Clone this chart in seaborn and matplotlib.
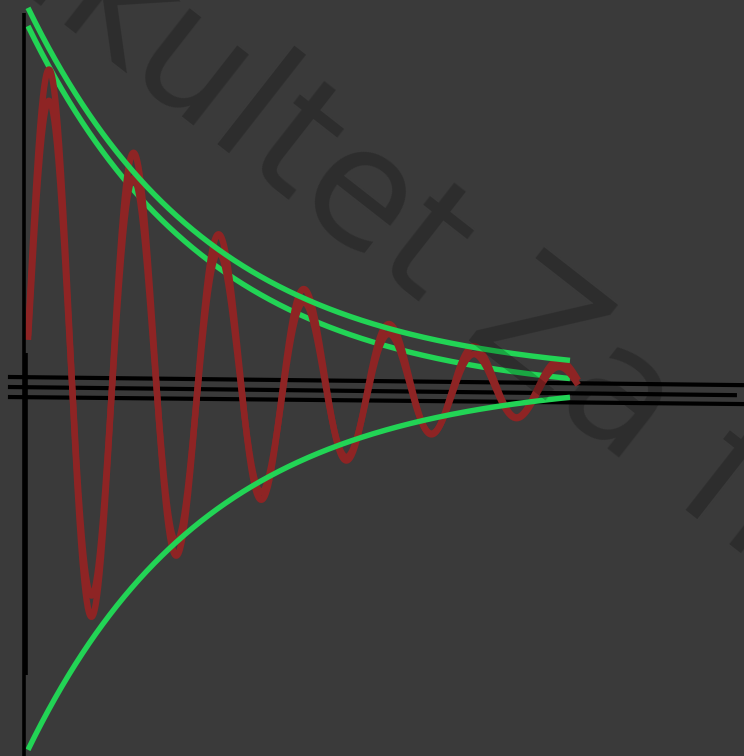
"""
Damped oscillation with its exponential envelope
(three slightly shifted copies of the same plot on top of each other)
"""
import numpy as np
import matplotlib
matplotlib.use("Agg")
import matplotlib.pyplot as plt
import seaborn as sns

# --- values ----------------------------------------------------------------
# time axis (s), amplitude relative to the start of the envelope
t_env_end = 10.0        # green envelopes stop here
t_osc_end = 10.15       # red curves run a little further
omega = 4.0             # rad/s  (period ~1.57 s)
gamma_env = 0.30        # 1/s, envelope decay

# red curves: amplitude A*exp(-gamma t)*(1 - rise*exp(-beta t)),
# centre line settles from a bit above zero
osc_amp = [1.065, 0.96]
osc_gamma = [0.28, 0.28]
osc_rise = [0.32, 0.32]
osc_beta = [0.98, 0.98]
osc_centre = [0.0027, -0.008]
osc_drift = [0.135, 0.135]
osc_drift_rate = [0.6, 0.6]

# green envelopes of the stacked copies
env_centres = [0.022, -0.027]       # copy A (upper + lower), copy B (upper only)
env_has_lower = [True, False]

# x-axis lines of the three copies (left height, right height, right end)
axis_left = [0.027, 0.0, -0.027]
axis_right = [0.005, -0.022, -0.046]
axis_x_end = [13.21, 13.08, 13.21]
axis_x_start = -0.37
# y-axis lines (x, top, bottom)
yaxis_x = [-0.074, -0.028]
yaxis_top = [1.008, 0.092]
yaxis_bottom = [-0.995, -0.776]

watermark = "Fakultet Za fiziku"

# --- style ------------------------------------------------------------------
sns.set_style("white")
plt.rcParams['font.family'] = ['DejaVu Sans']

bg = "#3a3a3a"
green = "#22d455"
red = "#8e2424"

fig = plt.figure(figsize=(7.44, 7.56), dpi=100, facecolor=bg)
ax = fig.add_axes([0, 0, 1, 1])
ax.set_facecolor(bg)
ax.axis("off")
ax.set_xlim(-28 / 54.2, 716 / 54.2)
ax.set_ylim(-369 / 371, 387 / 371)

# axis lines
for y0, y1, x1 in zip(axis_left, axis_right, axis_x_end):
    ax.plot([axis_x_start, x1], [y0, y1], color="black", lw=3.0, zorder=1,
            solid_capstyle="butt")
for x, y0, y1 in zip(yaxis_x, yaxis_top, yaxis_bottom):
    ax.plot([x, x], [y0, y1], color="black", lw=2.6, zorder=6,
            solid_capstyle="butt")

# envelopes
t_env = np.linspace(0, t_env_end, 800)
env = np.exp(-gamma_env * t_env)
for i, (c, lower) in enumerate(zip(env_centres, env_has_lower)):
    z = 5 if i == 0 else 2
    sns.lineplot(x=t_env, y=c + env, ax=ax, color=green, linewidth=3.9,
                 zorder=z, solid_capstyle="butt")
    if lower:
        sns.lineplot(x=t_env, y=c - env, ax=ax, color=green, linewidth=3.9,
                     zorder=z, solid_capstyle="butt")

# damped oscillations
t_osc = np.linspace(0, t_osc_end, 1500)
for i in range(2):
    amp = osc_amp[i] * np.exp(-osc_gamma[i] * t_osc) * \
        (1 - osc_rise[i] * np.exp(-osc_beta[i] * t_osc))
    centre = osc_centre[i] + osc_drift[i] * np.exp(-osc_drift_rate[i] * t_osc)
    y = centre + amp * np.sin(omega * t_osc)
    sns.lineplot(x=t_osc, y=y, ax=ax, color=red, linewidth=4.6,
                 zorder=4 - i, solid_capstyle="butt")

# watermark over everything
ax.text(-0.121, 1.127, watermark, transform=ax.transAxes, rotation=-38,
        rotation_mode="anchor", ha="left", va="baseline", fontsize=118,
        color="black", alpha=0.22, zorder=10)

fig.savefig("out.png", dpi=100, facecolor=bg)
